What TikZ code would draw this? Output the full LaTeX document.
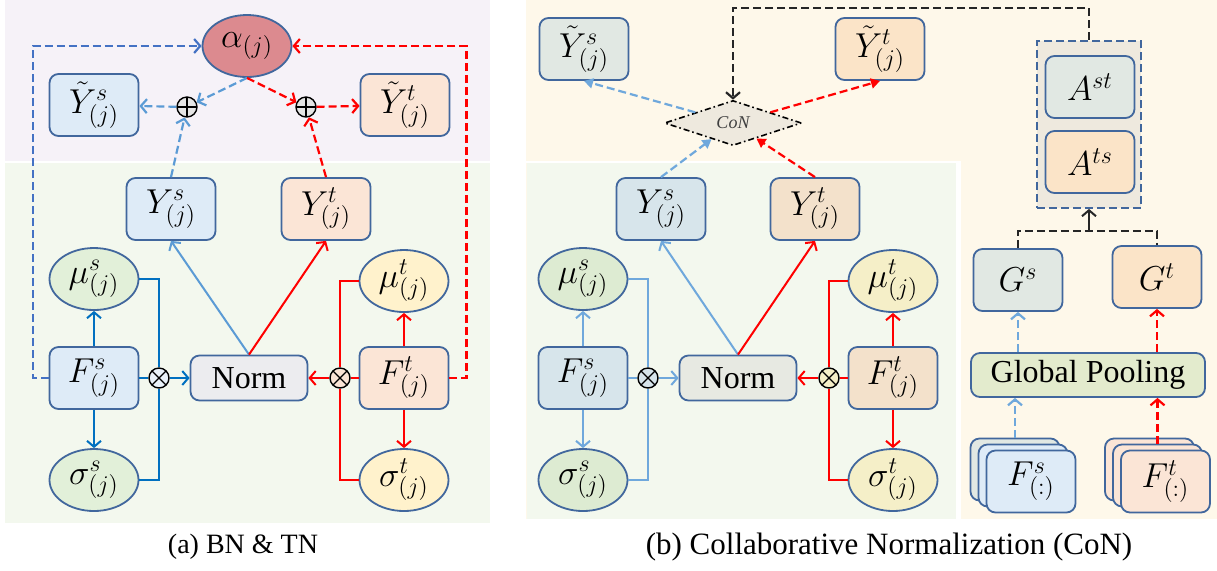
\documentclass[tikz,border=0pt]{standalone}
\usepackage{fontspec}
\setmainfont{Liberation Serif}
\usetikzlibrary{positioning,shapes.geometric,arrows.meta}
\DeclareMathSizes{17}{17.28}{12}{9}

\definecolor{edge}{HTML}{41679D}
\definecolor{bgpink}{HTML}{F6F2F8}
\definecolor{bggreen}{HTML}{F3F8EE}
\definecolor{bgcream}{HTML}{FEF8EA}
\definecolor{sblue}{HTML}{DEEBF7}
\definecolor{torange}{HTML}{FBE5D6}
\definecolor{sgreen}{HTML}{E2F0D9}
\definecolor{tyellow}{HTML}{FFF2CC}
\definecolor{normgray}{HTML}{ECECEF}
\definecolor{alphared}{HTML}{DC8A8F}
\definecolor{deepblue}{HTML}{0070C0}
\definecolor{lightblue}{HTML}{5B9BD5}
\definecolor{dashblue}{HTML}{4472C4}
\definecolor{ggrey}{HTML}{E1E8E3}
\definecolor{gpeach}{HTML}{FBE4C8}
\definecolor{ysblue}{HTML}{D7E5EB}
\definecolor{ytan}{HTML}{F3E1CB}
\definecolor{mugreen}{HTML}{DDEBD2}
\definecolor{muyellow}{HTML}{F5EFC8}
\definecolor{normlight}{HTML}{E7E9E2}
\definecolor{grpfill}{HTML}{EEE9DE}
\definecolor{poolgreen}{HTML}{E3EBCD}
\definecolor{conblue}{HTML}{6FA8DC}

\newcommand{\boxsize}{\fontsize{17}{20}\selectfont}

\begin{document}
\begin{tikzpicture}[x=0.5pt,y=-0.5pt,
  >={Straight Barb[length=3pt,width=7pt]},
  box/.style={draw=edge,line width=0.9pt,rounded corners=4.5pt,minimum width=44.5pt,minimum height=31pt,inner sep=0pt,font=\boxsize},
  oval/.style={ellipse,draw=edge,line width=0.9pt,minimum width=44.5pt,minimum height=31pt,inner sep=0pt,font=\boxsize},
  normbox/.style={box,minimum width=58.5pt,minimum height=22.5pt,font=\fontsize{16}{19}\selectfont},
  ring/.style={circle,draw,line width=0.7pt,minimum size=10pt,inner sep=0pt},
  oplus/.style={ring,fill=black!10,path picture={\draw[line width=0.6pt] (path picture bounding box.north)--(path picture bounding box.south) (path picture bounding box.west)--(path picture bounding box.east);}},
  otimes/.style={ring,path picture={\draw[line width=0.6pt] (path picture bounding box.north west)--(path picture bounding box.south east) (path picture bounding box.south west)--(path picture bounding box.north east);}},
  line/.style={line width=1pt},
  dline/.style={line width=1.1pt,dash pattern=on 4pt off 2pt},
  tri/.style={-{Triangle[length=4.5pt,width=5pt]}},
  con/.style={diamond,draw,fill=grpfill,minimum width=68.5pt,minimum height=20pt,inner sep=0pt,line width=0.8pt,dash pattern=on 3pt off 1.5pt on 0.8pt off 1.5pt,font=\fontsize{9}{11}\selectfont\itshape,text=black!75},
  caption/.style={font=\fontsize{14}{17}\selectfont}
]
\useasboundingbox (0,0) rectangle (1217,570);

% backgrounds
\fill[bgpink] (5,0) rectangle (490,161);
\fill[bggreen] (5,163) rectangle (490,523);
\fill[bgcream] (526,0) rectangle (1217,519);
\fill[bggreen] (527,163) rectangle (956,519);
\fill[white] (526,161) rectangle (961,163);
\fill[white] (956,161) rectangle (961,519);

% (a) BN & TN
\node[oval,fill=alphared] (alpha) at (247,46) {$\alpha_{(j)}$};
\node[box,fill=sblue] (Yts) at (94,105) {$\tilde{Y}^{s}_{(j)}$};
\node[box,fill=torange] (Ytt) at (405,105) {$\tilde{Y}^{t}_{(j)}$};
\node[oplus] (pl) at (187,107) {};
\node[oplus] (pr) at (306,107) {};
\node[box,fill=sblue] (Ys) at (171,209) {$Y^{s}_{(j)}$};
\node[box,fill=torange] (Yt) at (326,209) {$Y^{t}_{(j)}$};
\node[oval,fill=sgreen] (mus) at (94,279) {$\mu^{s}_{(j)}$};
\node[box,fill=sblue] (Fs) at (94,378) {$F^{s}_{(j)}$};
\node[oval,fill=sgreen] (sigs) at (94,480) {$\sigma^{s}_{(j)}$};
\node[normbox,fill=normgray] (norm) at (249,378) {Norm};
\node[otimes,fill=sblue!60!white] (xl) at (159,378) {};
\node[otimes,fill=torange] (xr) at (340,378) {};
\node[oval,fill=tyellow] (mut) at (404,281) {$\mu^{t}_{(j)}$};
\node[box,fill=torange] (Ft) at (404,378) {$F^{t}_{(j)}$};
\node[oval,fill=tyellow] (sigt) at (404,480) {$\sigma^{t}_{(j)}$};

\draw[line,deepblue,->] (Fs) -- (mus);
\draw[line,deepblue,->] (Fs) -- (sigs);
\draw[line,deepblue] (mus.east) -| (xl.north);
\draw[line,deepblue] (sigs.east) -| (xl.south);
\draw[line,deepblue] (Fs.east) -- (xl.west);
\draw[line,deepblue,->] (xl.east) -- (norm.west);
\draw[line,red,->] (Ft) -- (mut);
\draw[line,red,->] (Ft) -- (sigt);
\draw[line,red] (mut.west) -| (xr.north);
\draw[line,red] (sigt.west) -| (xr.south);
\draw[line,red] (Ft.west) -- (xr.east);
\draw[line,red,->] (xr.west) -- (norm.east);
\draw[line,lightblue,->] (norm.north) -- (Ys.south);
\draw[line,red,->] (norm.north) -- (Yt.south);

\draw[dline,lightblue,->] (Ys.north) -- (pl);
\draw[dline,lightblue,->] (pl) -- (Yts);
\draw[dline,lightblue,->] (alpha.south) -- (pl);
\draw[dline,red,->] (alpha.south) -- (pr);
\draw[dline,red,->] (Yt.north) -- (pr);
\draw[dline,red,->] (pr) -- (Ytt);
\draw[dline,dashblue,->] (Fs.west) -- ++(-16,0) |- (alpha.west);
\draw[dline,red,->] (Ft.east) -- ++(17,0) |- (alpha.east);

\node[caption] (capa) at (243,547) {(a) BN \& TN};

% (b) CoN
\node[box,fill=ggrey] (Ytsb) at (584,49) {$\tilde{Y}^{s}_{(j)}$};
\node[box,fill=gpeach] (Yttb) at (880,49) {$\tilde{Y}^{t}_{(j)}$};
\node[con] (con) at (733,123) {CoN};
\node[box,fill=ysblue] (Ysb) at (661,209) {$Y^{s}_{(j)}$};
\node[box,fill=ytan] (Ytb) at (815,209) {$Y^{t}_{(j)}$};
\node[oval,fill=mugreen] (musb) at (583,279) {$\mu^{s}_{(j)}$};
\node[box,fill=ysblue] (Fsb) at (583,378) {$F^{s}_{(j)}$};
\node[oval,fill=mugreen] (sigsb) at (583,480) {$\sigma^{s}_{(j)}$};
\node[normbox,fill=normlight] (normb) at (738,378) {Norm};
\node[otimes,fill=ysblue] (xlb) at (648,378) {};
\node[otimes,fill=muyellow] (xrb) at (829,378) {};
\node[oval,fill=muyellow] (mutb) at (893,281) {$\mu^{t}_{(j)}$};
\node[box,fill=ytan] (Ftb) at (893,378) {$F^{t}_{(j)}$};
\node[oval,fill=muyellow] (sigtb) at (893,480) {$\sigma^{t}_{(j)}$};

\draw[line,conblue,->] (Fsb) -- (musb);
\draw[line,conblue,->] (Fsb) -- (sigsb);
\draw[line,conblue] (musb.east) -| (xlb.north);
\draw[line,conblue] (sigsb.east) -| (xlb.south);
\draw[line,conblue] (Fsb.east) -- (xlb.west);
\draw[line,conblue,->] (xlb.east) -- (normb.west);
\draw[line,red,->] (Ftb) -- (mutb);
\draw[line,red,->] (Ftb) -- (sigtb);
\draw[line,red] (mutb.west) -| (xrb.north);
\draw[line,red] (sigtb.west) -| (xrb.south);
\draw[line,red] (Ftb.west) -- (xrb.east);
\draw[line,red,->] (xrb.west) -- (normb.east);
\draw[line,conblue,->] (normb.north) -- (Ysb.south);
\draw[line,red,->] (normb.north) -- (Ytb.south);

\draw[dline,conblue,tri] (Ysb.north) -- (con);
\draw[dline,red,tri] (Ytb.north) -- (con);
\draw[dline,conblue,tri] (con) -- (Ytsb.south);
\draw[dline,red,tri] (con) -- (Yttb.south);

% right column
\node[draw=edge,line width=0.9pt,dash pattern=on 4pt off 2pt,fill=grpfill,minimum width=52pt,minimum height=83.5pt] (grp) at (1089,124.5) {};
\node[box,fill=ggrey] (Ast) at (1090,87) {$A^{st}$};
\node[box,fill=gpeach] (Ats) at (1090,162) {$A^{ts}$};
\node[box,fill=ggrey] (Gs) at (1018,280) {$G^{s}$};
\node[box,fill=gpeach] (Gt) at (1157,277) {$G^{t}$};
\node[box,fill=poolgreen,minimum width=117pt,minimum height=22pt,font=\fontsize{16}{19}\selectfont] (pool) at (1088,375) {Global Pooling};
\node[box,fill=ggrey] (Fs3) at (1015,469.5) {};
\node[box,fill=sblue] (Fs2) at (1023,475.5) {};
\node[box,fill=sblue] (Fs1) at (1031,481.5) {$F^{s}_{(:)}$};
\node[box,fill=torange] (Ft3) at (1149.5,469.5) {};
\node[box,fill=torange] (Ft2) at (1157.5,475.5) {};
\node[box,fill=torange] (Ft1) at (1165.5,481.5) {$F^{t}_{(:)}$};

\coordinate (gj) at (1089,231);
\draw[dline,black!85,->] (grp.north) -- ++(0,-32) -| (con.north);
\draw[dline,black!85] (Gs.north) |- (gj) -| (Gt.north);
\draw[line,black!85,->] (gj) -- (grp.south);
\draw[dline,conblue,->] (Fs3.north) -- (Fs3.north |- pool.south);
\draw[dline,red,->] (Ft2.north) -- (Ft2.north |- pool.south);
\draw[dline,conblue,->] (pool.north -| Gs) -- (Gs.south);
\draw[dline,red,->] (pool.north -| Gt) -- (Gt.south);

\node[caption,font=\fontsize{15.5}{18}\selectfont] (capb) at (889,547) {(b) Collaborative Normalization (CoN)};
\end{tikzpicture}
\end{document}
